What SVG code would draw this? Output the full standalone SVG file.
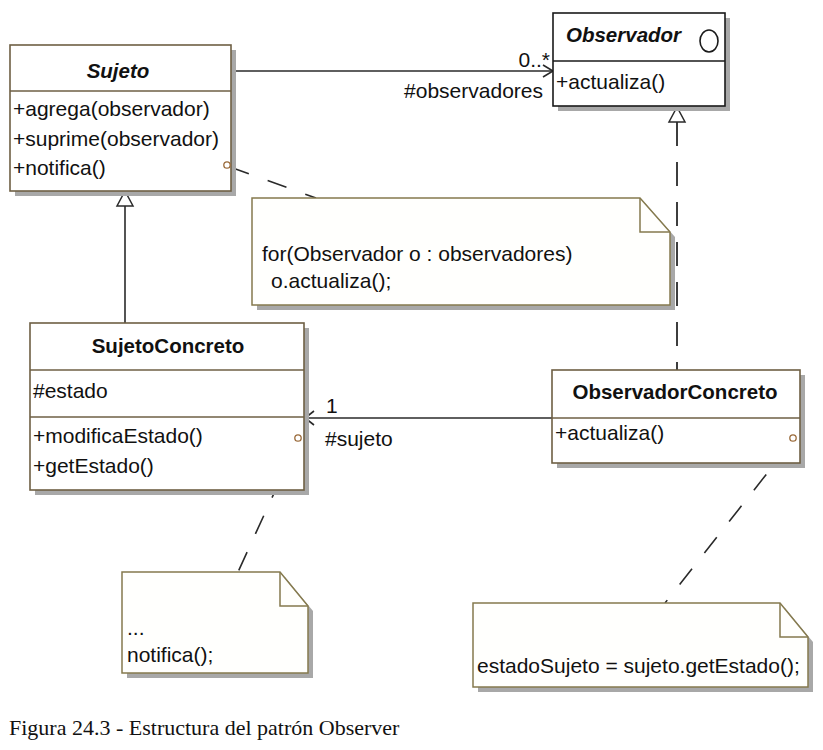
<svg xmlns="http://www.w3.org/2000/svg" width="823" height="750" viewBox="0 0 823 750">
<defs>
<style>
text{font-family:"Liberation Sans",Arial,sans-serif;fill:#111;font-size:21px}
.hdr{font-weight:bold;font-size:20.5px;text-anchor:middle}
.hdrl{font-weight:bold;font-size:20.5px;text-anchor:start}
.it{font-style:italic}
.box{fill:#fff;stroke:#6e5f44;stroke-width:1.6}
.boxk{fill:#fff;stroke:#1a1a1a;stroke-width:1.6}
.div{stroke:#6e5f44;stroke-width:1.4}
.shadow{fill:#a8a8a8}
.note{fill:#fffffd;stroke:#857a4e;stroke-width:1.5}
.fold{fill:none;stroke:#857a4e;stroke-width:1.5}
.line{fill:none;stroke:#2a2a2a;stroke-width:1.6}
.dash{fill:none;stroke:#2a2a2a;stroke-width:1.6;stroke-dasharray:20 20}
.vdash{fill:none;stroke:#2a2a2a;stroke-width:1.8;stroke-dasharray:24 16}
.anchor{fill:#fff;stroke:#9a6a3a;stroke-width:1.3}
.cap{font-family:"Liberation Serif","Times New Roman",serif;font-size:22px;fill:#111}
</style>
</defs>
<rect width="823" height="750" fill="#fff"/>

<g id="connectors">
<line class="line" x1="231" y1="71" x2="553" y2="71"/>
<polyline class="line" points="543,65 553,71 543,77"/>
<text x="550" y="67" font-size="18" text-anchor="end">0..*</text>
<text x="543" y="98" text-anchor="end">#observadores</text>

<line class="line" x1="125" y1="206" x2="125" y2="323"/>
<polygon points="125,191 117,206 133,206" fill="#fff" stroke="#2a2a2a" stroke-width="1.5"/>

<line class="vdash" x1="677" y1="122" x2="677" y2="370"/>
<polygon points="677,107 669,122 685,122" fill="#fff" stroke="#2a2a2a" stroke-width="1.5"/>

<line class="line" x1="305" y1="418" x2="552" y2="418"/>
<polyline class="line" points="314,411 305,418 314,425"/>
<text x="326" y="413" font-size="20">1</text>
<text x="325" y="446">#sujeto</text>

<line class="dash" x1="230" y1="167" x2="316" y2="198"/>
<line class="dash" x1="297" y1="443" x2="238" y2="572"/>
<line class="dash" x1="791" y1="443" x2="665" y2="603"/>
</g>

<g id="sujeto">
<rect class="shadow" x="15" y="50" width="221" height="146"/>
<rect class="box" x="10" y="45" width="221" height="146"/>
<line class="div" x1="10" y1="91" x2="231" y2="91"/>
<text class="hdr it" x="118" y="78">Sujeto</text>
<text x="13" y="116">+agrega(observador)</text>
<text x="13" y="146">+suprime(observador)</text>
<text x="13" y="175">+notifica()</text>
<circle class="anchor" cx="227" cy="165" r="3.2"/>
</g>

<g id="observador">
<rect class="shadow" x="558" y="18" width="172" height="93"/>
<rect class="boxk" x="553" y="13" width="172" height="93"/>
<line x1="553" y1="61" x2="725" y2="61" stroke="#1a1a1a" stroke-width="1.4"/>
<text class="hdrl it" x="566" y="42">Observador</text>
<ellipse cx="709" cy="41" rx="9" ry="11" fill="none" stroke="#1a1a1a" stroke-width="1.6"/>
<text x="556" y="89">+actualiza()</text>
</g>

<g id="note1">
<path class="shadow" d="M257,203 H645 L675,237 V310 H257 Z"/>
<path class="note" d="M252,198 H640 L670,232 V305 H252 Z"/>
<path class="fold" d="M640,198 V232 H670"/>
<text x="262" y="261">for(Observador o : observadores)</text>
<text x="271" y="288">o.actualiza();</text>
</g>

<g id="sujetoConcreto">
<rect class="shadow" x="35" y="328" width="274" height="167"/>
<rect class="box" x="30" y="323" width="274" height="167"/>
<line class="div" x1="30" y1="370" x2="304" y2="370"/>
<line class="div" x1="30" y1="417" x2="304" y2="417"/>
<text class="hdr" x="168" y="353">SujetoConcreto</text>
<text x="33" y="398">#estado</text>
<text x="33" y="443">+modificaEstado()</text>
<text x="33" y="473">+getEstado()</text>
<circle class="anchor" cx="298" cy="438" r="3.2"/>
</g>

<g id="observadorConcreto">
<rect class="shadow" x="557" y="375" width="248" height="93"/>
<rect class="box" x="552" y="370" width="248" height="93"/>
<line class="div" x1="552" y1="418" x2="800" y2="418"/>
<text class="hdr" x="675" y="399">ObservadorConcreto</text>
<text x="555" y="440">+actualiza()</text>
<circle class="anchor" cx="793" cy="438" r="3.2"/>
</g>

<g id="note2">
<path class="shadow" d="M127,577 H285 L313,611 V678 H127 Z"/>
<path class="note" d="M122,572 H280 L308,606 V673 H122 Z"/>
<path class="fold" d="M280,572 V606 H308"/>
<text x="127" y="635">...</text>
<text x="127" y="662">notifica();</text>
</g>

<g id="note3">
<path class="shadow" d="M478,608 H785 L813,642 V692 H478 Z"/>
<path class="note" d="M473,603 H780 L808,637 V687 H473 Z"/>
<path class="fold" d="M780,603 V637 H808"/>
<text x="477" y="673">estadoSujeto = sujeto.getEstado();</text>
</g>

<text class="cap" x="9" y="735">Figura 24.3 - Estructura del patrón Observer</text>
</svg>
